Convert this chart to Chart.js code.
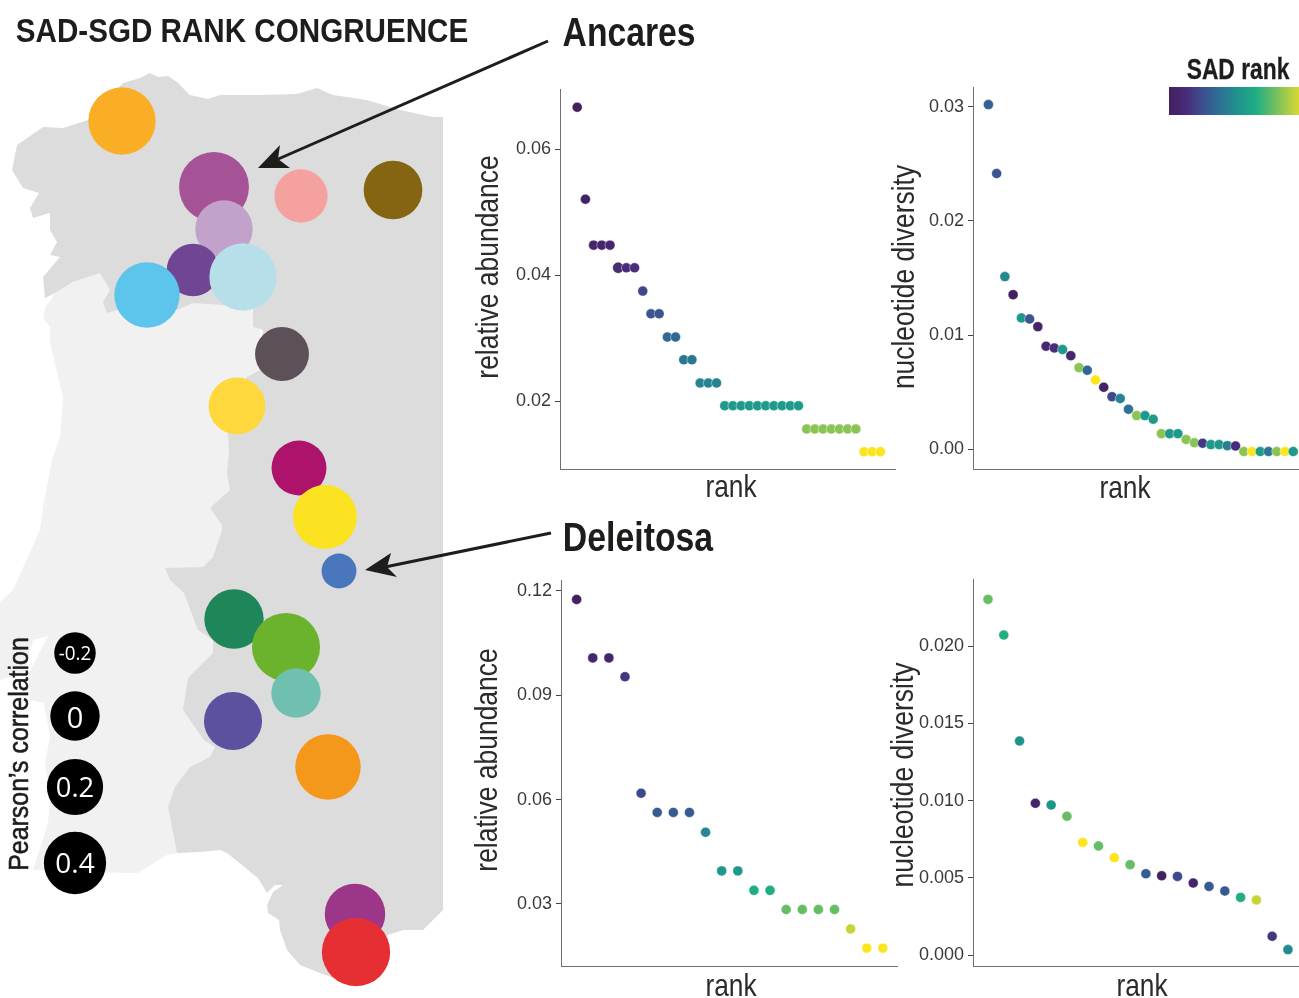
<!DOCTYPE html>
<html>
<head>
<meta charset="utf-8">
<title>SAD-SGD rank congruence</title>
<script src="https://cdn.jsdelivr.net/npm/chart.js@4/dist/chart.umd.js"></script>
<style>
html, body { margin: 0; padding: 0; background: #fff; }
#page { position: relative; width: 1299px; height: 998px; overflow: hidden; }
#page canvas { position: absolute; }
#arrows { position: absolute; left: 0; top: 0; }
.lbl { position: absolute; white-space: nowrap; line-height: 1; }
#colorbar { position: absolute; left: 1169px; top: 87px; width: 140px; height: 28px; }
</style>
</head>
<body>
<div id="page">
  <canvas id="mapChart" width="1299" height="998" style="left:0;top:0"></canvas>
  <canvas id="ancaresSad"></canvas>
  <canvas id="ancaresSgd"></canvas>
  <canvas id="deleitosaSad"></canvas>
  <canvas id="deleitosaSgd"></canvas>
  <div id="colorbar"></div>
  <svg id="arrows" width="1299" height="998">
    <line x1="548" y1="41" x2="276" y2="160" stroke="#1d1d1b" stroke-width="3"/>
    <polygon points="258,168 280,145 278,159 290,168" fill="#1d1d1b"/>
    <line x1="551" y1="533" x2="385" y2="567" stroke="#1d1d1b" stroke-width="3"/>
    <polygon points="365,570 391,553 387,567 397,577" fill="#1d1d1b"/>
  </svg>
</div>
<script>
// map sites, in map units
const siteEast = [122, 214, 301, 393, 224, 193, 147, 243, 282, 237, 299, 325, 339, 234, 286, 296, 233, 328, 355, 356];
const siteNorth = [121, 187, 196, 190, 229, 270, 295, 277, 354, 406, 468, 517, 571, 619, 647, 693, 721, 767, 914, 952];
const siteCorrelation = [0.58, 0.68, 0.11, 0.28, 0.24, 0.09, 0.51, 0.58, 0.13, 0.22, 0.16, 0.46, -0.34, 0.30, 0.61, 0.00, 0.26, 0.51, 0.34, 0.62];
const siteColors = ['#F9AE25', '#A65297', '#F5A19F', '#856412', '#C2A1CB', '#6F4594', '#5DC4EC', '#B7DFE9', '#5C5158', '#FFD83D',
    '#AE136B', '#FBE321', '#4A77BC', '#1E8658', '#6BB32D', '#6FC0AE', '#5A529F', '#F5971B', '#9C3689', '#E62F33'];

// size legend
const legendEast = [75, 75, 75, 75];
const legendNorth = [653, 716, 787, 863];
const legendCorrelation = [-0.2, 0, 0.2, 0.4];

// land outlines, in map units
const spainOutline = [[150, 73], [158, 77], [168, 76], [177, 82], [190, 95], [208, 99], [220, 95], [260, 95], [297, 94], [317, 88], [333, 95], [367, 100], [400, 110], [433, 117], [443, 117],
    [443, 910], [423, 930], [403, 930], [388, 935], [375, 945], [347, 983], [320, 973], [300, 965], [287, 950], [280, 930], [279, 920], [268, 913], [267, 905], [273, 892], [283, 885], [275, 885], [267, 893],
    [258, 878], [227, 853], [220, 850], [200, 852], [177, 853], [168, 807], [175, 787], [190, 767], [210, 757], [215, 747], [204, 740], [183, 710], [188, 678], [213, 653], [213, 640], [198, 630], [184, 593], [170, 580], [165, 568],
    [203, 567], [213, 557], [222, 530], [222, 525], [210, 508], [230, 490], [227, 473], [229, 453], [228, 433], [232, 400], [247, 377], [260, 370], [263, 330], [253, 327], [253, 307],
    [193, 303], [177, 310], [117, 310], [107, 313], [103, 302], [110, 290], [100, 273], [73, 282], [55, 293], [45, 298], [43, 277], [60, 257], [50, 255], [57, 242], [50, 230], [50, 213], [33, 218], [30, 208], [39, 193], [23, 188], [12, 170], [17, 145], [43, 127], [63, 128], [88, 120], [123, 83], [140, 78]];
const portugalOutline = [[100, 273], [73, 282], [55, 293], [45, 308], [43, 318], [50, 327], [50, 343], [63, 397], [60, 437], [52, 460], [43, 507], [40, 530], [13, 590], [0, 602], [0, 680], [25, 672], [33, 640], [48, 636], [28, 675], [30, 700], [44, 703], [50, 737], [45, 763], [50, 797], [48, 823], [33, 870],
    [127, 873], [138, 873], [167, 855], [177, 853], [260, 700], [260, 340], [260, 300], [200, 295], [110, 290]];

// Ancares, 38 species
const ancaresRank = [1, 2, 3, 4, 5, 6, 7, 8, 9, 10, 11, 12, 13, 14, 15, 16, 17, 18, 19, 20, 21, 22, 23, 24, 25, 26, 27, 28, 29, 30, 31, 32, 33, 34, 35, 36, 37, 38];
const ancaresAbundance = [0.0667, 0.0521, 0.0448, 0.0448, 0.0448, 0.0412, 0.0412, 0.0412, 0.0375, 0.0339, 0.0339, 0.0302, 0.0302, 0.0266, 0.0266, 0.0229, 0.0229, 0.0229,
    0.0193, 0.0193, 0.0193, 0.0193, 0.0193, 0.0193, 0.0193, 0.0193, 0.0193, 0.0193, 0.0156, 0.0156, 0.0156, 0.0156, 0.0156, 0.0156, 0.0156, 0.0120, 0.0120, 0.0120];
const ancaresAbundanceShade = [0, 0.03, 0.06, 0.06, 0.06, 0.12, 0.12, 0.12, 0.22, 0.26, 0.26, 0.32, 0.32, 0.38, 0.38, 0.43, 0.43, 0.43,
    0.53, 0.53, 0.53, 0.53, 0.53, 0.53, 0.53, 0.53, 0.53, 0.53, 0.8, 0.8, 0.8, 0.8, 0.8, 0.8, 0.8, 1, 1, 1];
const ancaresDiversity = [0.03018, 0.02414, 0.01512, 0.01354, 0.0115, 0.01141, 0.01074, 0.00902, 0.00887, 0.00873, 0.0082, 0.00715, 0.00692, 0.00607, 0.00543, 0.00461, 0.00444, 0.0035, 0.00295,
    0.00295, 0.00263, 0.00137, 0.00137, 0.00137, 0.00085, 0.00058, 0.00053, 0.00041, 0.00041, 0.00032, 0.00029, -0.0002, -0.0002, -0.0002, -0.0002, -0.0002, -0.0002, -0.0002];
const ancaresDiversityShade = [0.3, 0.26, 0.45, 0, 0.53, 0.26, 0.04, 0.08, 0.12, 0.53, 0.06, 0.8, 0.32, 1, 0.02, 0.22, 0.43, 0.36, 0.8,
    0.53, 0.53, 0.8, 0.53, 0.53, 0.8, 0.8, 0.16, 0.53, 0.53, 0.42, 0.12, 0.8, 1, 0.53, 0.38, 0.8, 1, 0.53];

// Deleitosa, 20 species
const deleitosaRank = [1, 2, 3, 4, 5, 6, 7, 8, 9, 10, 11, 12, 13, 14, 15, 16, 17, 18, 19, 20];
const deleitosaAbundance = [0.1175, 0.1007, 0.1007, 0.0953, 0.0618, 0.0563, 0.0563, 0.0563, 0.0506, 0.0395, 0.0395, 0.0339, 0.0339, 0.0284, 0.0284, 0.0284, 0.0284, 0.0228, 0.0173, 0.0173];
const deleitosaAbundanceShade = [0, 0.06, 0.06, 0.16, 0.22, 0.28, 0.28, 0.28, 0.45, 0.52, 0.52, 0.62, 0.62, 0.74, 0.74, 0.74, 0.74, 0.9, 1, 1];
const deleitosaDiversity = [0.02302, 0.02071, 0.01385, 0.00982, 0.00971, 0.00898, 0.00729, 0.00706, 0.0063, 0.00585, 0.00526, 0.00513, 0.00509, 0.00466, 0.00444, 0.00414, 0.00373, 0.00356, 0.00121, 0.00035];
const deleitosaDiversityShade = [0.74, 0.63, 0.5, 0.05, 0.5, 0.74, 1, 0.74, 1, 0.74, 0.28, 0, 0.22, 0.06, 0.28, 0.28, 0.62, 0.9, 0.16, 0.45];

// tick labels
const ancaresAbundanceTicks = [0.02, 0.04, 0.06];
const ancaresDiversityTicks = [0, 0.01, 0.02, 0.03];
const deleitosaAbundanceTicks = [0.03, 0.06, 0.09, 0.12];
const deleitosaDiversityTicks = [0, 0.005, 0.01, 0.015, 0.02];

const viridisStops = ['#43205E', '#482C7C', '#3B5290', '#2B7595', '#1F948C', '#20AE84', '#6CBE62', '#B8D040', '#FBE51F'];

const sans = '"Liberation Sans", sans-serif';

function viridis(t) {
    const p = Math.min(Math.max(t, 0), 1) * (viridisStops.length - 1);
    const i = Math.min(Math.floor(p), viridisStops.length - 2);
    const a = parseInt(viridisStops[i].slice(1), 16);
    const b = parseInt(viridisStops[i + 1].slice(1), 16);
    const f = p - i;
    const mix = s => Math.round(((a >> s) & 255) * (1 - f) + ((b >> s) & 255) * f);
    return 'rgb(' + mix(16) + ',' + mix(8) + ',' + mix(0) + ')';
}

// bubble area follows the correlation, same rule as the size legend
function bubbleRadius(c) {
    return Math.sqrt(610 + 900 * c);
}

new Chart(document.getElementById('mapChart'), {
    type: 'bubble',
    data: {
        datasets: [
            {
                data: legendEast.map((x, i) => ({ x: x, y: legendNorth[i], r: bubbleRadius(legendCorrelation[i]) })),
                backgroundColor: '#000',
                borderWidth: 0,
                order: 0
            },
            {
                data: siteEast.map((x, i) => ({ x: x, y: siteNorth[i], r: bubbleRadius(siteCorrelation[i]) })),
                backgroundColor: siteColors,
                borderWidth: 0,
                order: 1
            },
            {
                type: 'scatter',
                data: spainOutline.map(p => ({ x: p[0], y: p[1] })),
                showLine: true,
                fill: 'shape',
                backgroundColor: '#DCDCDC',
                borderWidth: 0,
                pointRadius: 0,
                order: 2
            },
            {
                type: 'scatter',
                data: portugalOutline.map(p => ({ x: p[0], y: p[1] })),
                showLine: true,
                fill: 'shape',
                backgroundColor: '#F1F1F1',
                borderWidth: 0,
                pointRadius: 0,
                order: 3
            }
        ]
    },
    options: {
        responsive: false,
        animation: false,
        events: [],
        layout: { padding: 0, autoPadding: false },
        plugins: { legend: { display: false }, tooltip: { enabled: false } },
        scales: {
            x: { display: false, min: 0, max: 1299 },
            y: { display: false, min: 0, max: 998, reverse: true }
        }
    }
});

function rankPlot(id, box, rank, values, shade, ticks, decimals, xRange, yRange) {
    const canvas = document.getElementById(id);
    canvas.width = box.right - box.left + 60;
    canvas.height = box.bottom - box.top + 8;
    canvas.style.left = (box.left - 60) + 'px';
    canvas.style.top = (box.top - 6) + 'px';
    new Chart(canvas, {
        type: 'scatter',
        data: {
            datasets: [{
                data: rank.map((r, i) => ({ x: r, y: values[i] })),
                backgroundColor: shade.map(viridis),
                borderColor: box.ringAt === undefined ? 'rgba(255,255,255,0.6)'
                    : shade.map((s, i) => i === box.ringAt ? '#2a2a2a' : 'rgba(255,255,255,0.6)'),
                borderWidth: 0.7,
                pointRadius: 5
            }]
        },
        options: {
            responsive: false,
            animation: false,
            events: [],
            layout: { padding: { top: 6, bottom: 2, left: 0, right: 0 }, autoPadding: false },
            plugins: { legend: { display: false }, tooltip: { enabled: false } },
            scales: {
                x: {
                    min: xRange[0],
                    max: xRange[1],
                    grid: { display: false },
                    ticks: { display: false },
                    border: { color: '#707070', width: 1 },
                    afterFit: s => { s.height = 0; }
                },
                y: {
                    min: yRange[0],
                    max: yRange[1],
                    grid: { drawOnChartArea: false, tickLength: 5, color: '#444' },
                    border: { color: '#707070', width: 1 },
                    ticks: {
                        font: { family: sans, size: 18 },
                        color: '#3a3a3a',
                        padding: 4,
                        callback: v => v.toFixed(decimals)
                    },
                    afterBuildTicks: s => { s.ticks = ticks.map(v => ({ value: v })); },
                    afterFit: s => { s.width = 60; s.paddingTop = 0; s.paddingBottom = 0; }
                }
            }
        }
    });
}

rankPlot('ancaresSad', { left: 560, top: 89, right: 896, bottom: 469, ringAt: 5 }, ancaresRank, ancaresAbundance, ancaresAbundanceShade,
    ancaresAbundanceTicks, 2, [-1.1, 39.9], [0.00925, 0.0696]);
rankPlot('ancaresSgd', { left: 973, top: 87, right: 1299, bottom: 469 }, ancaresRank, ancaresDiversity, ancaresDiversityShade,
    ancaresDiversityTicks, 2, [-0.87, 38.7], [-0.001725, 0.03172]);
rankPlot('deleitosaSad', { left: 561, top: 580, right: 898, bottom: 966 }, deleitosaRank, deleitosaAbundance, deleitosaAbundanceShade,
    deleitosaAbundanceTicks, 2, [0.03, 20.94], [0.01217, 0.12308]);
rankPlot('deleitosaSgd', { left: 973, top: 579, right: 1299, bottom: 966 }, deleitosaRank, deleitosaDiversity, deleitosaDiversityShade,
    deleitosaDiversityTicks, 3, [0.05, 20.7], [-0.00071, 0.02434]);

document.getElementById('colorbar').style.background = 'linear-gradient(to right, ' + viridisStops.join(', ') + ')';

// width squeezes the text to the condensed look of the original lettering
function label(text, x, y, size, opts) {
    const o = opts || {};
    const el = document.createElement('div');
    el.className = 'lbl';
    el.textContent = text;
    el.style.left = x + 'px';
    el.style.top = y + 'px';
    el.style.fontSize = size + 'px';
    el.style.fontFamily = o.family || sans;
    el.style.fontWeight = o.bold ? 'bold' : 'normal';
    el.style.color = o.color || '#1d1d1b';
    if (o.stroke) el.style.webkitTextStroke = o.stroke + 'px ' + el.style.color;
    document.getElementById('page').appendChild(el);
    const k = o.width ? o.width / el.offsetWidth : 1;
    el.style.transform = 'translate(-50%, -50%)' + (o.vertical ? ' rotate(-90deg)' : '') + ' scaleX(' + k + ')';
}

label('SAD-SGD RANK CONGRUENCE', 242, 30, 34, { bold: true, width: 452 });
label('Ancares', 629, 32, 41, { bold: true, width: 133 });
label('Deleitosa', 638, 537, 41, { bold: true, width: 150 });
label('SAD rank', 1238, 69, 29, { bold: true, width: 103, stroke: 0.3 });

label('relative abundance', 487, 267, 32, { vertical: true, width: 223, color: '#2b2b2b' });
label('nucleotide diversity', 903, 277, 32, { vertical: true, width: 224, color: '#2b2b2b' });
label('relative abundance', 486, 760, 32, { vertical: true, width: 223, color: '#2b2b2b' });
label('nucleotide diversity', 902, 775, 32, { vertical: true, width: 225, color: '#2b2b2b' });

label('rank', 731, 486, 32, { width: 51, color: '#2b2b2b' });
label('rank', 1125, 487, 32, { width: 51, color: '#2b2b2b' });
label('rank', 731, 985, 32, { width: 51, color: '#2b2b2b' });
label('rank', 1142, 985, 32, { width: 51, color: '#2b2b2b' });

label("Pearson\u2019s correlation", 19, 754, 28, { vertical: true, width: 234, stroke: 0.6 });

const bubbleFont = '"Open Sans", sans-serif';
label('-0.2', 75, 653, 20, { family: bubbleFont, color: '#fff', width: 33 });
label('0', 75, 716, 29, { family: bubbleFont, color: '#fff' });
label('0.2', 75, 786, 28, { family: bubbleFont, color: '#fff', width: 38 });
label('0.4', 75, 862, 28, { family: bubbleFont, color: '#fff', width: 39 });
</script>
</body>
</html>
